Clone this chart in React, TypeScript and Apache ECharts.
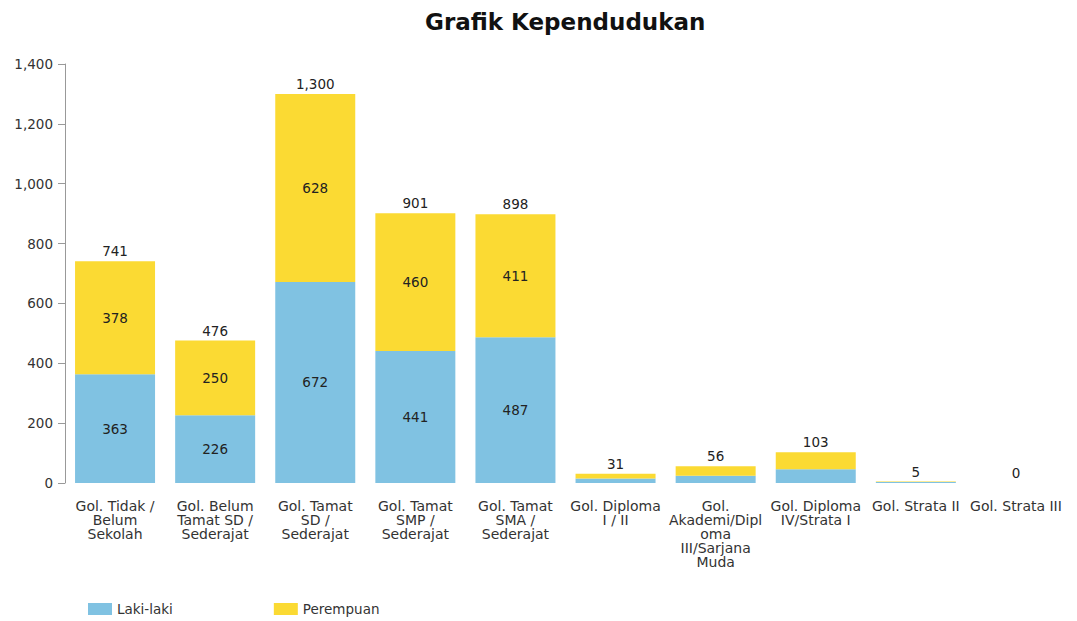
import React, { useEffect, useRef } from "react";
import * as echarts from "echarts";

const categories = [
  "Gol. Tidak /\nBelum\nSekolah",
  "Gol. Belum\nTamat SD /\nSederajat",
  "Gol. Tamat\nSD /\nSederajat",
  "Gol. Tamat\nSMP /\nSederajat",
  "Gol. Tamat\nSMA /\nSederajat",
  "Gol. Diploma\nI / II",
  "Gol.\nAkademi/Dipl\noma\nIII/Sarjana\nMuda",
  "Gol. Diploma\nIV/Strata I",
  "Gol. Strata II",
  "Gol. Strata III",
];
const lakiLaki = [363, 226, 672, 441, 487, 15, 24, 46, 3, 0];
const perempuan = [378, 250, 628, 460, 411, 16, 32, 57, 2, 0];
const totals = [741, 476, 1300, 901, 898, 31, 56, 103, 5, 0];
const yTicks = { min: 0, max: 1400, interval: 200 };

const FONT = "DejaVu Sans, Verdana, sans-serif";

export default function App() {
  const ref = useRef<HTMLDivElement>(null);
  useEffect(() => {
    if (!ref.current) return;
    const chart = echarts.init(ref.current, undefined, { renderer: "svg" });
    const insideLabel = (vals: number[]) =>
      vals.map((v, i) => ({
        value: v,
        label: { show: totals[i] >= 200 },
      }));
    chart.setOption({
      animation: false,
      textStyle: { fontFamily: FONT },
      title: {
        text: "Grafik Kependudukan",
        left: 412,
        top: -3,
        textStyle: { fontFamily: FONT, fontSize: 23, fontWeight: "bold", color: "#111" },
      },
      legend: {
        left: 75,
        top: 589,
        itemWidth: 24,
        itemHeight: 12,
        itemGap: 101,
        icon: "rect",
        data: ["Laki-laki", "Perempuan"],
        textStyle: { fontFamily: FONT, fontSize: 13.5, color: "#333" },
      },
      grid: { left: 57, right: 3, top: 56, bottom: 138, containLabel: false },
      xAxis: {
        type: "category",
        data: categories,
        axisLine: { show: false },
        axisTick: { show: false },
        axisLabel: {
          interval: 0,
          margin: 16,
          fontSize: 14,
          lineHeight: 14,
          color: "#333",
          fontFamily: FONT,
        },
      },
      yAxis: {
        type: "value",
        min: yTicks.min,
        max: yTicks.max,
        interval: yTicks.interval,
        axisLine: { show: true, lineStyle: { color: "#999" } },
        axisTick: { show: true, length: 7, lineStyle: { color: "#999" } },
        splitLine: { show: false },
        axisLabel: {
          fontSize: 13.5,
          color: "#333",
          margin: 12,
          fontFamily: FONT,
          formatter: (v: number) => v.toLocaleString("en-US"),
        },
      },
      series: [
        {
          name: "Laki-laki",
          type: "bar",
          stack: "total",
          barWidth: 80,
          itemStyle: { color: "#80C2E2" },
          label: { position: "inside", color: "#222", fontSize: 13.5, fontFamily: FONT },
          data: insideLabel(lakiLaki),
        },
        {
          name: "Perempuan",
          type: "bar",
          stack: "total",
          barWidth: 80,
          itemStyle: { color: "#FBDA33" },
          label: { position: "inside", color: "#222", fontSize: 13.5, fontFamily: FONT },
          data: insideLabel(perempuan),
        },
        {
          name: "Total",
          type: "bar",
          stack: "total",
          barWidth: 80,
          itemStyle: { color: "transparent" },
          label: {
            show: true,
            position: "top",
            distance: 3,
            color: "#222",
            fontSize: 13.5,
            fontFamily: FONT,
            formatter: (p: any) => totals[p.dataIndex].toLocaleString("en-US"),
          },
          data: totals.map(() => 0),
        },
      ],
    });
    return () => chart.dispose();
  }, []);
  return <div ref={ref} style={{ width: 1061, height: 613 }} />;
}
